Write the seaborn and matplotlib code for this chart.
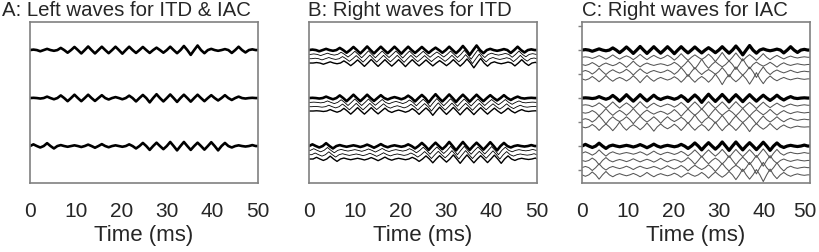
import numpy as np
import pandas as pd
import matplotlib
matplotlib.use("Agg")
import matplotlib.pyplot as plt
import matplotlib.transforms as mtransforms
import seaborn as sns

# half-cycle extrema of each wave (axis units)
left_top = [0.02, -0.05, 0.05, -0.03, 0.09, -0.11, 0.13, -0.14, 0.15, -0.14, 0.14, -0.13, 0.14, -0.15, 0.14, -0.12, 0.13,
            -0.12, 0.10, -0.11, 0.14, -0.13, 0.17, -0.20, 0.19, -0.13, 0.05, -0.03, 0.04, -0.12, 0.14, -0.10, 0.03]
left_mid = [0.01, -0.02, 0.06, -0.05, 0.11, -0.13, 0.14, -0.13, 0.14, -0.12, 0.12, -0.06, 0.04, -0.05, 0.10, -0.14, 0.13,
            -0.18, 0.16, -0.14, 0.15, -0.16, 0.14, -0.15, 0.14, -0.13, 0.12, -0.10, 0.12, -0.08, 0.06, -0.02, 0.01]
left_bot = [0.07, -0.06, 0.12, -0.10, 0.04, -0.03, 0.03, -0.04, 0.06, -0.07, 0.08, -0.05, 0.03, -0.03, 0.07, -0.10, 0.13,
            -0.16, 0.14, -0.13, 0.17, -0.18, 0.17, -0.16, 0.14, -0.15, 0.16, -0.18, 0.13, -0.06, 0.03, -0.02, 0.04]
left_waves = [left_top, left_mid, left_bot]

# right waves for IAC (thin lines under each thick wave)
c_top = [
    [0.02, -0.05, 0.07, -0.08, 0.10, -0.08, 0.06, -0.10, 0.12, -0.10, 0.08, -0.06, 0.09, -0.12, 0.15, -0.13, 0.10,
     -0.09, 0.13, -0.18, 0.20, -0.16, 0.18, -0.15, 0.11, -0.13, 0.15, -0.10, 0.08, -0.07, 0.05, -0.03, 0.02],
    [-0.04, 0.08, -0.10, 0.06, -0.05, 0.09, -0.12, 0.14, -0.10, 0.06, -0.04, 0.03, -0.05, 0.09, -0.13, 0.16, -0.19,
     0.22, -0.16, 0.12, -0.10, 0.15, -0.21, 0.24, -0.18, 0.10, -0.07, 0.09, -0.11, 0.07, -0.04, 0.03, -0.02],
    [0.05, -0.10, 0.14, -0.12, 0.08, -0.06, 0.10, -0.14, 0.12, -0.08, 0.05, -0.04, 0.07, -0.11, 0.17, -0.20, 0.17,
     -0.12, 0.09, -0.11, 0.17, -0.22, 0.20, -0.15, 0.19, -0.24, 0.20, -0.12, 0.07, -0.05, 0.06, -0.04, 0.02],
    [-0.05, 0.10, -0.12, 0.14, -0.10, 0.06, -0.09, 0.13, -0.16, 0.14, -0.10, 0.06, -0.05, 0.09, -0.14, 0.18, -0.14,
     0.10, -0.14, 0.20, -0.24, 0.18, -0.12, 0.16, -0.22, 0.26, -0.20, 0.12, -0.08, 0.06, -0.04, 0.03, -0.02],
]
c_mid = [
    [0.02, -0.06, 0.10, -0.12, 0.14, -0.12, 0.10, -0.13, 0.15, -0.12, 0.09, -0.06, 0.05, -0.08, 0.12, -0.15, 0.14,
     -0.17, 0.15, -0.13, 0.14, -0.16, 0.15, -0.13, 0.12, -0.14, 0.13, -0.10, 0.09, -0.07, 0.05, -0.03, 0.02],
    [-0.03, 0.08, -0.14, 0.16, -0.12, 0.09, -0.12, 0.16, -0.14, 0.10, -0.07, 0.05, -0.08, 0.12, -0.16, 0.14, -0.12,
     0.15, -0.18, 0.16, -0.12, 0.10, -0.14, 0.17, -0.15, 0.12, -0.10, 0.13, -0.11, 0.08, -0.05, 0.03, -0.02],
    [0.04, -0.10, 0.16, -0.18, 0.12, -0.08, 0.12, -0.17, 0.14, -0.10, 0.12, -0.15, 0.12, -0.08, 0.10, -0.16, 0.20,
     -0.15, 0.10, -0.14, 0.18, -0.20, 0.16, -0.12, 0.15, -0.18, 0.15, -0.10, 0.12, -0.09, 0.06, -0.03, 0.02],
    [-0.04, 0.10, -0.15, 0.12, -0.16, 0.20, -0.14, 0.09, -0.12, 0.16, -0.18, 0.12, -0.08, 0.11, -0.15, 0.18, -0.14,
     0.10, -0.16, 0.20, -0.16, 0.12, -0.15, 0.18, -0.20, 0.14, -0.10, 0.14, -0.12, 0.08, -0.05, 0.03, -0.01],
]
c_bot = [
    [0.06, -0.08, 0.14, -0.12, 0.06, -0.04, 0.03, -0.04, 0.06, -0.08, 0.09, -0.06, 0.04, -0.05, 0.08, -0.11, 0.14,
     -0.16, 0.14, -0.12, 0.16, -0.18, 0.16, -0.14, 0.15, -0.17, 0.18, -0.20, 0.16, -0.08, 0.04, -0.02, 0.03],
    [-0.04, 0.10, -0.18, 0.12, -0.06, 0.04, -0.05, 0.07, -0.06, 0.05, -0.07, 0.09, -0.06, 0.04, -0.07, 0.12, -0.16,
     0.18, -0.14, 0.10, -0.15, 0.20, -0.18, 0.14, -0.17, 0.21, -0.24, 0.20, -0.12, 0.06, -0.04, 0.03, -0.02],
    [0.05, -0.12, 0.16, -0.10, 0.05, -0.04, 0.06, -0.08, 0.06, -0.04, 0.05, -0.07, 0.08, -0.06, 0.09, -0.13, 0.10,
     -0.08, 0.12, -0.16, 0.18, -0.14, 0.10, -0.16, 0.22, -0.26, 0.22, -0.16, 0.20, -0.14, 0.06, -0.03, 0.02],
    [-0.06, 0.12, -0.18, 0.14, -0.08, 0.05, -0.04, 0.06, -0.08, 0.10, -0.08, 0.05, -0.04, 0.07, -0.10, 0.08, -0.06,
     0.10, -0.14, 0.12, -0.10, 0.14, -0.20, 0.24, -0.18, 0.22, -0.28, 0.24, -0.16, 0.10, -0.06, 0.04, -0.02],
]
iac_waves = [c_top, c_mid, c_bot]

half_period = 1.5          # ms between extrema
itd_shifts = [0.0, 0.3, 0.6, 0.9]   # ms
wave_levels = [0, -2, -4]
itd_offsets = [0.0, -0.18, -0.36, -0.54]
iac_offsets = [-0.3, -0.6, -0.9, -1.2]
titles = ["A: Left waves for ITD & IAC", "B: Right waves for ITD", "C: Right waves for IAC"]
xticks = [0, 10, 20, 30, 40, 50]


def wave_frame(vals, level, shift=0.0):
    # extrema plus the zero crossings between them
    n = len(vals)
    t_ext = shift + half_period / 2 + half_period * np.arange(n)
    t_zero = shift + half_period * np.arange(n + 1)
    t = np.empty(2 * n + 1)
    y = np.zeros(2 * n + 1)
    t[0::2] = t_zero
    t[1::2] = t_ext
    y[1::2] = vals
    t = np.concatenate([[0.0], t, [50.0]])
    y = np.concatenate([[0.0], y, [0.0]]) + level
    df = pd.DataFrame({"time": t, "y": y})
    return df[(df.time >= 0) & (df.time <= 50)].drop_duplicates("time")


def draw(d, ax, color, lw):
    sns.lineplot(data=d, x="time", y="y", ax=ax, color=color, lw=lw, estimator=None, sort=False,
                 solid_joinstyle="round", solid_capstyle="round")


sns.set_style("white")
plt.rcParams["font.family"] = ["Liberation Sans", "DejaVu Sans"]

fig = plt.figure(figsize=(8.2, 2.53), dpi=100)
lefts = [30, 309, 582]
axes = [fig.add_axes([l / 820, 1 - 184 / 253, 228 / 820, 161 / 253]) for l in lefts]
title_x = [2, 308, 582]

# A: left waves
ax = axes[0]
for vals, lev in zip(left_waves, wave_levels):
    draw(wave_frame(vals, lev), ax, "black", 1.9)

# B: delayed right waves
ax = axes[1]
for vals, lev in zip(left_waves, wave_levels):
    for i in [3, 2, 1, 0]:
        d = wave_frame(vals, lev + itd_offsets[i], itd_shifts[i])
        lw = 1.9 if i == 0 else (1.0 if i == 3 else 0.6)
        draw(d, ax, "black", lw)

# C: right waves with lower correlation
ax = axes[2]
for group, vals, lev in zip(iac_waves, left_waves, wave_levels):
    for w, off in zip(group, iac_offsets):
        draw(wave_frame(w, lev + off), ax, "#555555", 0.75)
    draw(wave_frame(vals, lev), ax, "black", 2.3)

for k, ax in enumerate(axes):
    ax.set_xlim(0, 50)
    ax.set_ylim(-5.54, 1.17)
    ax.set_xticks(xticks)
    ax.set_xticklabels([str(v) for v in xticks], fontsize=15)
    ax.tick_params(axis="x", length=3, width=1, color="#808080", pad=10)
    if k == 2:
        ax.set_yticks([1, 0, -1, -2, -3, -4, -5])
        ax.set_yticklabels([])
        ax.tick_params(axis="y", left=True, length=3, width=1, color="#808080")
    else:
        ax.set_yticks([])
    ax.set_ylabel("")
    ax.set_xlabel("Time (ms)", fontsize=16, labelpad=3)
    for s in ax.spines.values():
        s.set_color("#808080")
        s.set_linewidth(1.2)
    fig.text(title_x[k] / 820, 1 - 16 / 253, titles[k], fontsize=14.7, ha="left", va="baseline")

# last label of panel C sits against the figure edge
last = axes[2].get_xticklabels()[-1]
last.set_transform(last.get_transform() + mtransforms.ScaledTranslation(-5 / 100, 0, fig.dpi_scale_trans))

fig.savefig("out.png", dpi=100)
